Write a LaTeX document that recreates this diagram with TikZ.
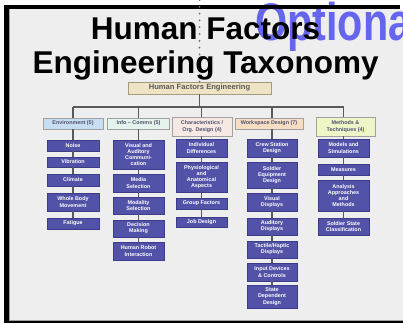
\documentclass[tikz,border=0pt]{standalone}
\usepackage{fontspec}
\setmainfont{Liberation Sans}
\definecolor{bggray}{HTML}{EEEEEE}
\definecolor{optblue}{HTML}{6565EE}
\definecolor{childfill}{HTML}{5252A8}
\definecolor{childline}{HTML}{3C3C88}
\definecolor{connc}{HTML}{5A5A5A}
\definecolor{rootfill}{HTML}{EEE3C2}
\definecolor{rootline}{HTML}{A39A80}
\definecolor{envfill}{HTML}{C6DDF2}
\definecolor{infofill}{HTML}{E4F3EC}
\definecolor{charfill}{HTML}{F6E9E4}
\definecolor{workfill}{HTML}{F7DDC2}
\definecolor{methfill}{HTML}{EEF6C8}
\definecolor{cattext}{HTML}{50506E}
\definecolor{dotc}{HTML}{707070}
\definecolor{framegray}{HTML}{A0A0A0}
\begin{document}
\begin{tikzpicture}[x=1pt,y=-1pt,
  child/.style={draw=childline, fill=childfill, text=white, line width=0.6pt,
    inner sep=0pt, align=center, font=\fontsize{5.4}{6.2}\selectfont\bfseries},
  cat/.style={draw=framegray, line width=0.7pt, inner sep=0pt, align=center,
    text=cattext, font=\fontsize{5.4}{6.4}\selectfont\bfseries},
  conn/.style={draw=connc, line width=1.3pt},
  dots/.style={draw=dotc, line width=2pt, line cap=round, dash pattern=on 0pt off 6.8pt},
  titletext/.style={inner sep=0pt, anchor=base, font=\fontsize{31.5}{34}\selectfont\bfseries}
]
\useasboundingbox (0,0) rectangle (403,323);
\clip (0,0) rectangle (403,323);
% background and frame
\fill[white] (0,0) rectangle (403,323);
\fill[bggray] (9,9) rectangle (403,321);
\node[anchor=base west, inner sep=0pt, text=optblue, font=\fontsize{53}{53}\selectfont\bfseries] (opt) at (255,41) {\scalebox{0.78}[1]{Optional}};
\fill[black] (4,5) rectangle (400,9);
\fill[black] (4,5) rectangle (9,323);
\fill[black] (4,321) rectangle (403,323);
\draw[framegray, line width=0.8pt] (9.5,9) -- (9.5,320.5) -- (403,320.5);
% root and dotted guide
\node[draw=rootline, fill=rootfill, line width=0.8pt, inner sep=0pt, minimum width=143, minimum height=12,
  text=black!65, font=\fontsize{7.6}{8}\selectfont\bfseries] (root) at (199.5,88) {Human Factors Engineering};
\coordinate (dtop) at (199.5,0);
\draw[dots] (dtop) -- (root.north);
% title
\node[titletext] (t1) at (205.5,40) {Human Factors};
\node[titletext] (t2) at (205.5,74) {Engineering Taxonomy};
% categories
\node[cat, fill=envfill, minimum width=60, minimum height=11] (env) at (73,123.5) {Environment (5)};
\node[cat, fill=infofill, minimum width=62, minimum height=11] (info) at (138.5,123.5) {Info -- Comms (5)};
\node[cat, fill=charfill, minimum width=60, minimum height=19] (char) at (202,126.5) {Characteristics /\\Org. Design (4)};
\node[cat, fill=workfill, minimum width=68, minimum height=11] (work) at (269,123.5) {Workspace Design (7)};
\node[cat, fill=methfill, minimum width=59, minimum height=19] (meth) at (345.5,126.5) {Methods \&\\Techniques (4)};
% column 1
\node[child, minimum width=52, minimum height=11] (c11) at (73,145.5) {Noise};
\node[child, minimum width=52, minimum height=10] (c12) at (73,162) {Vibration};
\node[child, minimum width=52, minimum height=12] (c13) at (73,180) {Climate};
\node[child, minimum width=52, minimum height=18] (c14) at (73,202) {Whole Body\\Movement};
\node[child, minimum width=52, minimum height=11] (c15) at (73,223.5) {Fatigue};
% column 2
\node[child, minimum width=51, minimum height=29] (c21) at (138.5,154.5) {Visual and\\Auditory\\Communi-\\cation};
\node[child, minimum width=51, minimum height=18] (c22) at (138.5,183) {Media\\Selection};
\node[child, minimum width=51, minimum height=17] (c23) at (138.5,205.5) {Modality\\Selection};
\node[child, minimum width=51, minimum height=17] (c24) at (138.5,228.5) {Decision\\Making};
\node[child, minimum width=51, minimum height=18] (c25) at (138.5,251) {Human Robot\\Interaction};
% column 3
\node[child, minimum width=51, minimum height=18] (c31) at (201.5,148) {Individual\\Differences};
\node[child, minimum width=51, minimum height=30] (c32) at (201.5,177) {Physiological\\and\\Anatomical\\Aspects};
\node[child, minimum width=51, minimum height=11] (c33) at (201.5,203.5) {Group Factors};
\node[child, minimum width=51, minimum height=10] (c34) at (201.5,222) {Job Design};
% column 4
\node[child, minimum width=50, minimum height=18] (c41) at (272,148) {Crew Station\\Design};
\node[child, minimum width=50, minimum height=26] (c42) at (272,175) {Soldier\\Equipment\\Design};
\node[child, minimum width=50, minimum height=18] (c43) at (272,202) {Visual\\Displays};
\node[child, minimum width=50, minimum height=17] (c44) at (272,226.5) {Auditory\\Displays};
\node[child, minimum width=50, minimum height=17] (c45) at (272,249.5) {Tactile/Haptic\\Displays};
\node[child, minimum width=50, minimum height=18] (c46) at (272,272) {Input Devices\\\& Controls};
\node[child, minimum width=50, minimum height=23] (c47) at (272,296.5) {State\\Dependent\\Design};
% column 5
\node[child, minimum width=51, minimum height=18] (c51) at (343.5,148) {Models and\\Simulations};
\node[child, minimum width=51, minimum height=11] (c52) at (343.5,169.5) {Measures};
\node[child, minimum width=51, minimum height=31] (c53) at (343.5,195.5) {Analysis\\Approaches\\and\\Methods};
\node[child, minimum width=51, minimum height=17] (c54) at (343.5,226.5) {Soldier State\\Classification};
% connectors
\coordinate (bar) at (0,107);
\draw[conn] (root.south) -- (root.south |- bar);
\draw[conn] (c11.north |- bar) -- (c51.north |- bar);
\foreach \c/\k in {c11/env, c21/info, c31/char, c41/work, c51/meth}{
  \draw[conn] (\c.north |- bar) -- (\c.north |- \k.north);
  \draw[conn] (\c.north |- \k.south) -- (\c.north);
}
\foreach \a/\b in {c11/c12, c12/c13, c13/c14, c14/c15,
  c21/c22, c22/c23, c23/c24, c24/c25,
  c31/c32, c32/c33, c33/c34,
  c41/c42, c42/c43, c43/c44, c44/c45, c45/c46, c46/c47,
  c51/c52, c52/c53, c53/c54}{
  \draw[conn] (\a) -- (\b);
}
\end{tikzpicture}
\end{document}
